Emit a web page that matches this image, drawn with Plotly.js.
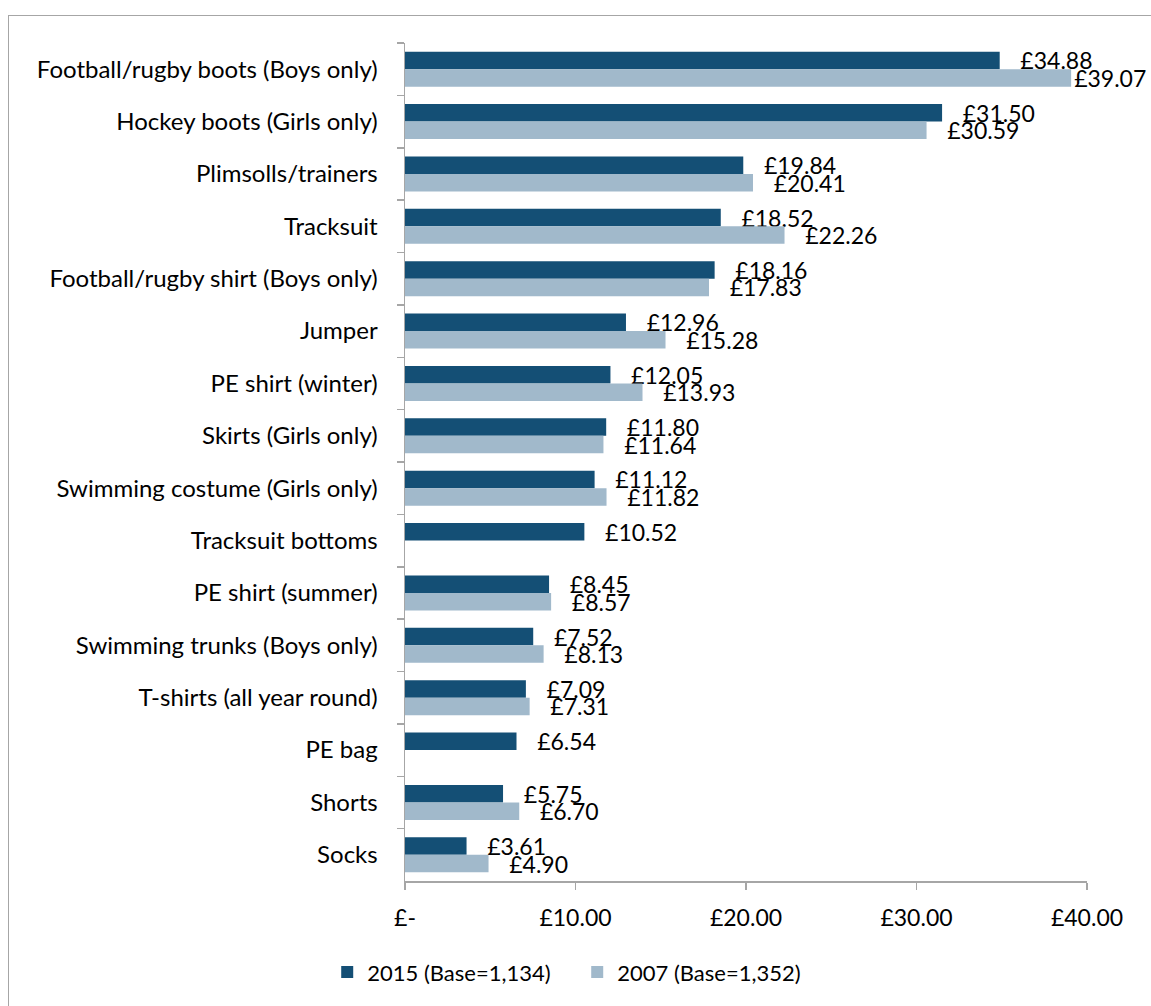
<!DOCTYPE html>
<html>
<head>
<meta charset="utf-8">
<script src="https://cdn.plot.ly/plotly-3.0.1.min.js"></script>
<style>
  html, body { margin: 0; padding: 0; background: #fff; overflow: hidden; }
  #frame { position: absolute; left: 8px; top: 15px; width: 1143px; height: 991px;
           border-top: 1.5px solid #a6a6a6; border-left: 1.5px solid #a6a6a6; box-sizing: border-box; }
  #chart { position: absolute; left: 8px; top: 15px; width: 1143px; height: 991px; }
</style>
</head>
<body>
<div id="frame"></div>
<div id="chart"></div>
<script>
const categories = [
  "Football/rugby boots (Boys only)",
  "Hockey boots (Girls only)",
  "Plimsolls/trainers",
  "Tracksuit",
  "Football/rugby shirt (Boys only)",
  "Jumper",
  "PE shirt (winter)",
  "Skirts (Girls only)",
  "Swimming costume (Girls only)",
  "Tracksuit bottoms",
  "PE shirt (summer)",
  "Swimming trunks (Boys only)",
  "T-shirts (all year round)",
  "PE bag",
  "Shorts",
  "Socks"
];
const values2015 = [34.88, 31.50, 19.84, 18.52, 18.16, 12.96, 12.05, 11.80, 11.12, 10.52, 8.45, 7.52, 7.09, 6.54, 5.75, 3.61];
const values2007 = [39.07, 30.59, 20.41, 22.26, 17.83, 15.28, 13.93, 11.64, 11.82, null, 8.57, 8.13, 7.31, null, 6.70, 4.90];
const seriesNames = ["2015 (Base=1,134)", "2007 (Base=1,352)"];
const tickValues = [0, 10, 20, 30, 40];
const tickLabels = ["£-", "£10.00", "£20.00", "£30.00", "£40.00"];

const FONT = "Lato, 'Open Sans', sans-serif";
const NB = "\u00a0";
function labels(vals) {
  return vals.map(v => v == null ? "" : (v > 38 ? "" : NB.repeat(3)) + "£" + v.toFixed(2));
}

const traces = [
  { type: "bar", orientation: "h", name: seriesNames[0], y: categories, x: values2015,
    marker: { color: "#144F75" }, text: labels(values2015), textposition: "outside",
    textfont: { family: FONT, size: 23, color: "#000" }, constraintext: "none", cliponaxis: false,
    hoverinfo: "skip" },
  { type: "bar", orientation: "h", name: seriesNames[1], y: categories, x: values2007,
    marker: { color: "#A1B9CB" }, text: labels(values2007), textposition: "outside",
    textfont: { family: FONT, size: 23, color: "#000" }, constraintext: "none", cliponaxis: false,
    hoverinfo: "skip" }
];

const layout = {
  width: 1143, height: 991,
  margin: { l: 397, r: 64, t: 28, b: 125 },
  paper_bgcolor: "rgba(0,0,0,0)", plot_bgcolor: "rgba(0,0,0,0)",
  font: { family: FONT, size: 23, color: "#000" },
  barmode: "group", bargap: 0.33, bargroupgap: 0,
  showlegend: true,
  legend: { orientation: "h", xref: "container", yref: "container", x: 0.498, y: 0.034,
            xanchor: "center", yanchor: "middle", font: { family: FONT, size: 22, color: "#000" },
            itemwidth: 30, entrywidth: 205, traceorder: "normal" },
  xaxis: { range: [0, 40], tickvals: tickValues, ticktext: tickLabels, showgrid: false,
           zeroline: false, showline: true, linecolor: "#a6a6a6", linewidth: 1.5,
           ticks: "outside", ticklen: 7, tickcolor: "#a6a6a6", tickwidth: 1.5,
           ticklabelstandoff: 9, tickfont: { family: FONT, size: 23, color: "#000" }, fixedrange: true },
  yaxis: { type: "category", autorange: "reversed", showgrid: false, zeroline: false,
           showline: true, linecolor: "#a6a6a6", linewidth: 1.5,
           ticks: "outside", ticklen: 7, tickcolor: "#a6a6a6", tickwidth: 1.5, tickson: "boundaries",
           ticklabelstandoff: 21, tickfont: { family: FONT, size: 24, color: "#000" }, fixedrange: true }
};

Plotly.newPlot("chart", traces, layout, { displayModeBar: false, staticPlot: true });
</script>
</body>
</html>
